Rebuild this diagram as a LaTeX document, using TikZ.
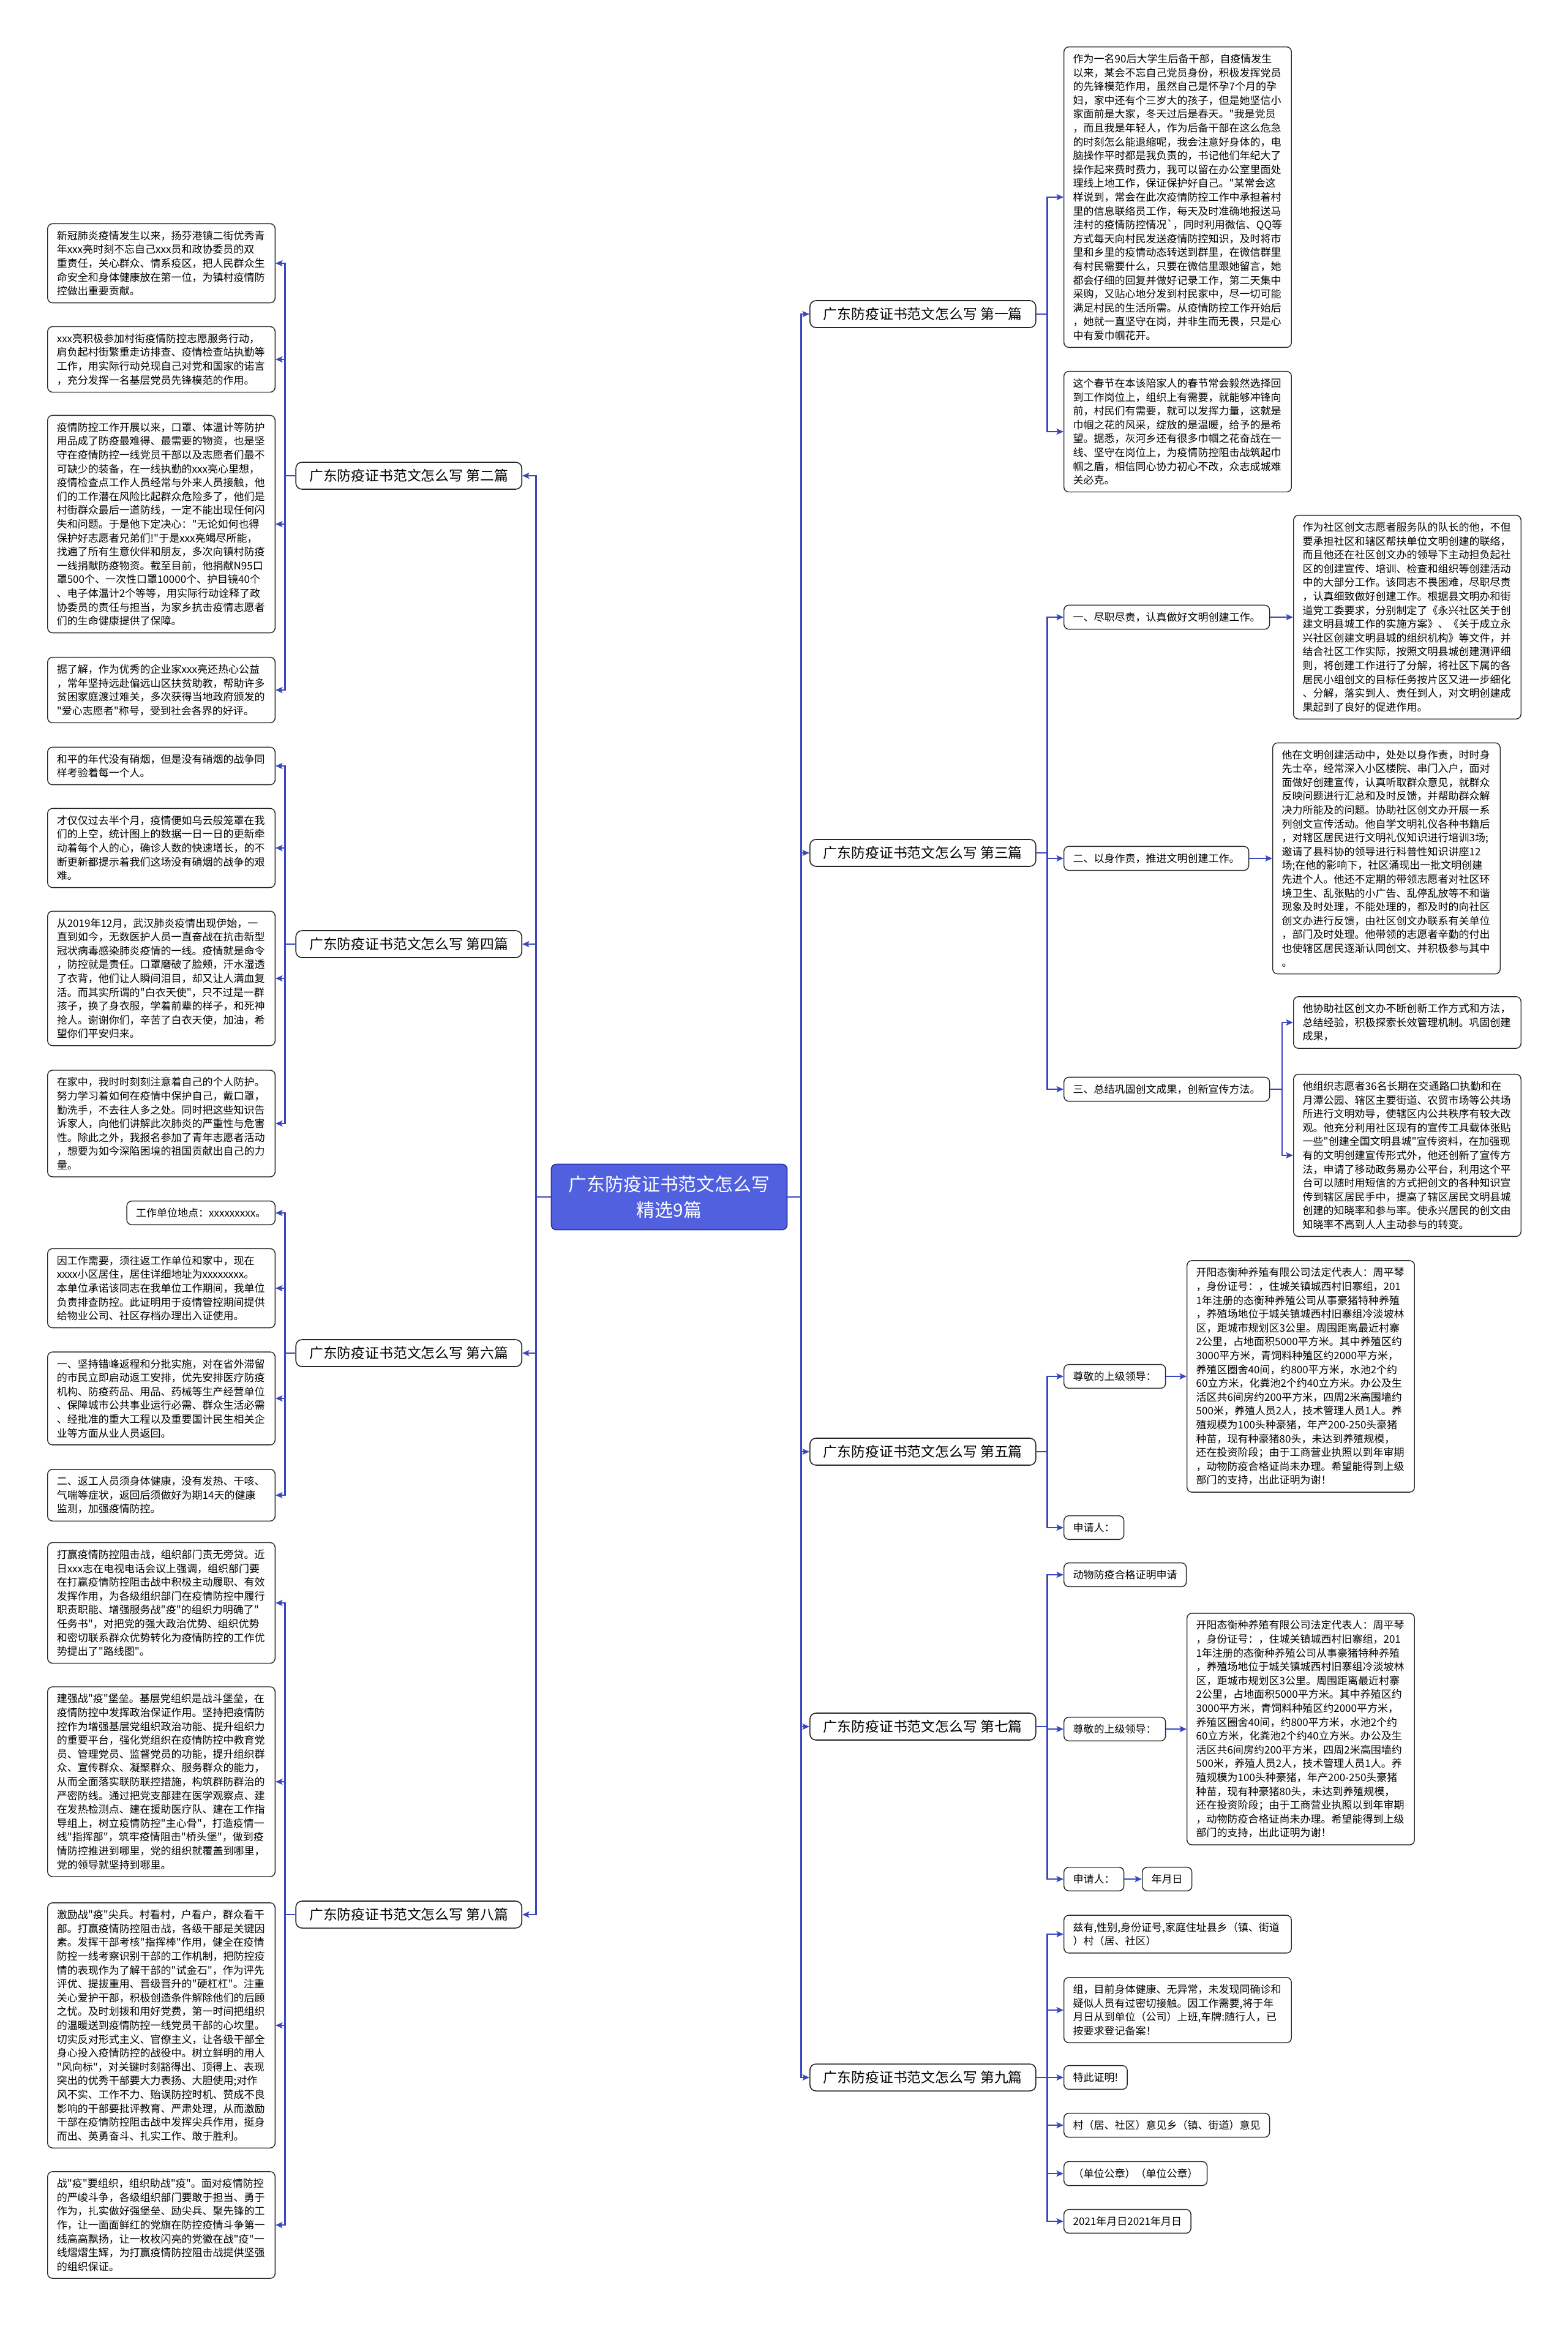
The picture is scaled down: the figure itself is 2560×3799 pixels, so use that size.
\documentclass[tikz,border=0pt]{standalone}
\usepackage{fontspec}
\setmainfont{Noto Sans CJK SC}[Ligatures=TeXOff]
\usepackage{tikz}
\usetikzlibrary{arrows.meta}

\definecolor{linkblue}{RGB}{58,70,190}
\definecolor{rootblue}{RGB}{80,96,222}
\definecolor{rootedge}{RGB}{42,54,168}
\definecolor{boxedge}{RGB}{38,38,38}

\tikzset{
  conn/.style={draw=linkblue, line width=1.3pt,
    -{Stealth[length=2.3mm,width=2mm,inset=0.5mm]}},
  textbox/.style={draw=boxedge, line width=0.8pt, rounded corners=1.6mm, fill=white,
    text width=68.3mm, align=left, inner xsep=3mm, inner ysep=2.3mm,
    font=\fontsize{9.67pt}{12.86pt}\selectfont},
  tagbox/.style={draw=boxedge, line width=0.8pt, rounded corners=1.6mm, fill=white,
    inner xsep=3mm, inner ysep=2.3mm,
    font=\fontsize{9.67pt}{12.86pt}\selectfont},
  partbox/.style={draw=boxedge, line width=0.9pt, rounded corners=2mm, fill=white,
    minimum width=73.8mm, minimum height=8.8mm, inner xsep=3mm,
    font=\fontsize{13pt}{15pt}\selectfont},
  rootbox/.style={draw=rootedge, line width=1pt, rounded corners=1.6mm, fill=rootblue,
    text=white, align=center, minimum width=77mm, minimum height=21.4mm,
    font=\fontsize{17pt}{23.4pt}\selectfont}
}

\begin{document}
\begin{tikzpicture}[x=0.2mm, y=-0.2mm]

\useasboundingbox (0,0) rectangle (2560,3799);

\newcommand\ctrX{1093}
\newcommand\ctrY{1955}
\newcommand\brL{853}
\newcommand\brR{1322}
\newcommand\bxL{450}
\newcommand\bxR{1737}

% Root
\node [rootbox] (root) at (\ctrX, \ctrY) {
广东防疫证书范文怎么写\\
精选9篇
};

% Parts on the left
\node [partbox, anchor=east] (part_2) at (\brL, 777) {广东防疫证书范文怎么写 第二篇};
\node [partbox, anchor=east] (part_4) at (\brL, 1542) {广东防疫证书范文怎么写 第四篇};
\node [partbox, anchor=east] (part_6) at (\brL, 2210) {广东防疫证书范文怎么写 第六篇};
\node [partbox, anchor=east] (part_8) at (\brL, 3127) {广东防疫证书范文怎么写 第八篇};

% Parts on the right
\node [partbox, anchor=west] (part_1) at (\brR, 513) {广东防疫证书范文怎么写 第一篇};
\node [partbox, anchor=west] (part_3) at (\brR, 1393) {广东防疫证书范文怎么写 第三篇};
\node [partbox, anchor=west] (part_5) at (\brR, 2371) {广东防疫证书范文怎么写 第五篇};
\node [partbox, anchor=west] (part_7) at (\brR, 2820) {广东防疫证书范文怎么写 第七篇};
\node [partbox, anchor=west] (part_9) at (\brR, 3393) {广东防疫证书范文怎么写 第九篇};

% Part two
\node [textbox, anchor=east] (part_2_a) at (\bxL, 430) {
新冠肺炎疫情发生以来，扬芬港镇二街优秀青\\
年xxx亮时刻不忘自己xxx员和政协委员的双\\
重责任，关心群众、情系疫区，把人民群众生\\
命安全和身体健康放在第一位，为镇村疫情防\\
控做出重要贡献。
};
\node [textbox, anchor=east] (part_2_b) at (\bxL, 587) {
xxx亮积极参加村街疫情防控志愿服务行动，\\
肩负起村街繁重走访排查、疫情检查站执勤等\\
工作，用实际行动兑现自己对党和国家的诺言\\
，充分发挥一名基层党员先锋模范的作用。
};
\node [textbox, anchor=east] (part_2_c) at (\bxL, 856) {
疫情防控工作开展以来，口罩、体温计等防护\\
用品成了防疫最难得、最需要的物资，也是坚\\
守在疫情防控一线党员干部以及志愿者们最不\\
可缺少的装备，在一线执勤的xxx亮心里想，\\
疫情检查点工作人员经常与外来人员接触，他\\
们的工作潜在风险比起群众危险多了，他们是\\
村街群众最后一道防线，一定不能出现任何闪\\
失和问题。于是他下定决心："无论如何也得\\
保护好志愿者兄弟们!"于是xxx亮竭尽所能，\\
找遍了所有生意伙伴和朋友，多次向镇村防疫\\
一线捐献防疫物资。截至目前，他捐献N95口\\
罩500个、一次性口罩10000个、护目镜40个\\
、电子体温计2个等等，用实际行动诠释了政\\
协委员的责任与担当，为家乡抗击疫情志愿者\\
们的生命健康提供了保障。
};
\node [textbox, anchor=east] (part_2_d) at (\bxL, 1127) {
据了解，作为优秀的企业家xxx亮还热心公益\\
，常年坚持远赴偏远山区扶贫助教，帮助许多\\
贫困家庭渡过难关，多次获得当地政府颁发的\\
"爱心志愿者"称号，受到社会各界的好评。
};

% Part four
\node [textbox, anchor=east] (part_4_a) at (\bxL, 1251) {
和平的年代没有硝烟，但是没有硝烟的战争同\\
样考验着每一个人。
};
\node [textbox, anchor=east] (part_4_b) at (\bxL, 1385) {
才仅仅过去半个月，疫情便如乌云般笼罩在我\\
们的上空，统计图上的数据一日一日的更新牵\\
动着每个人的心，确诊人数的快速增长，的不\\
断更新都提示着我们这场没有硝烟的战争的艰\\
难。
};
\node [textbox, anchor=east] (part_4_c) at (\bxL, 1598) {
从2019年12月，武汉肺炎疫情出现伊始，一\\
直到如今，无数医护人员一直奋战在抗击新型\\
冠状病毒感染肺炎疫情的一线。疫情就是命令\\
，防控就是责任。口罩磨破了脸颊，汗水湿透\\
了衣背，他们让人瞬间泪目，却又让人满血复\\
活。而其实所谓的"白衣天使"，只不过是一群\\
孩子，换了身衣服，学着前辈的样子，和死神\\
抢人。谢谢你们，辛苦了白衣天使，加油，希\\
望你们平安归来。
};
\node [textbox, anchor=east] (part_4_d) at (\bxL, 1835) {
在家中，我时时刻刻注意着自己的个人防护。\\
努力学习着如何在疫情中保护自己，戴口罩，\\
勤洗手，不去往人多之处。同时把这些知识告\\
诉家人，向他们讲解此次肺炎的严重性与危害\\
性。除此之外，我报名参加了青年志愿者活动\\
，想要为如今深陷困境的祖国贡献出自己的力\\
量。
};

% Part six
\node [tagbox, anchor=east] (part_6_a) at (\bxL, 1981) {工作单位地点：xxxxxxxxx。};
\node [textbox, anchor=east] (part_6_b) at (\bxL, 2104) {
因工作需要，须往返工作单位和家中，现在\\
xxxx小区居住，居住详细地址为xxxxxxxx。\\
本单位承诺该同志在我单位工作期间，我单位\\
负责排查防控。此证明用于疫情管控期间提供\\
给物业公司、社区存档办理出入证使用。
};
\node [textbox, anchor=east] (part_6_c) at (\bxL, 2284) {
一、坚持错峰返程和分批实施，对在省外滞留\\
的市民立即启动返工安排，优先安排医疗防疫\\
机构、防疫药品、用品、药械等生产经营单位\\
、保障城市公共事业运行必需、群众生活必需\\
、经批准的重大工程以及重要国计民生相关企\\
业等方面从业人员返回。
};
\node [textbox, anchor=east] (part_6_d) at (\bxL, 2442) {
二、返工人员须身体健康，没有发热、干咳、\\
气喘等症状，返回后须做好为期14天的健康\\
监测，加强疫情防控。
};

% Part eight
\node [textbox, anchor=east] (part_8_a) at (\bxL, 2618) {
打赢疫情防控阻击战，组织部门责无旁贷。近\\
日xxx志在电视电话会议上强调，组织部门要\\
在打赢疫情防控阻击战中积极主动履职、有效\\
发挥作用，为各级组织部门在疫情防控中履行\\
职责职能、增强服务战"疫"的组织力明确了"\\
任务书"，对把党的强大政治优势、组织优势\\
和密切联系群众优势转化为疫情防控的工作优\\
势提出了"路线图"。
};
\node [textbox, anchor=east] (part_8_b) at (\bxL, 2910) {
建强战"疫"堡垒。基层党组织是战斗堡垒，在\\
疫情防控中发挥政治保证作用。坚持把疫情防\\
控作为增强基层党组织政治功能、提升组织力\\
的重要平台，强化党组织在疫情防控中教育党\\
员、管理党员、监督党员的功能，提升组织群\\
众、宣传群众、凝聚群众、服务群众的能力，\\
从而全面落实联防联控措施，构筑群防群治的\\
严密防线。通过把党支部建在医学观察点、建\\
在发热检测点、建在援助医疗队、建在工作指\\
导组上，树立疫情防控"主心骨"，打造疫情一\\
线"指挥部"，筑牢疫情阻击"桥头堡"，做到疫\\
情防控推进到哪里，党的组织就覆盖到哪里，\\
党的领导就坚持到哪里。
};
\node [textbox, anchor=east] (part_8_c) at (\bxL, 3308) {
激励战"疫"尖兵。村看村，户看户，群众看干\\
部。打赢疫情防控阻击战，各级干部是关键因\\
素。发挥干部考核"指挥棒"作用，健全在疫情\\
防控一线考察识别干部的工作机制，把防控疫\\
情的表现作为了解干部的"试金石"，作为评先\\
评优、提拔重用、晋级晋升的"硬杠杠"。注重\\
关心爱护干部，积极创造条件解除他们的后顾\\
之忧。及时划拨和用好党费，第一时间把组织\\
的温暖送到疫情防控一线党员干部的心坎里。\\
切实反对形式主义、官僚主义，让各级干部全\\
身心投入疫情防控的战役中。树立鲜明的用人\\
"风向标"，对关键时刻豁得出、顶得上、表现\\
突出的优秀干部要大力表扬、大胆使用;对作\\
风不实、工作不力、贻误防控时机、赞成不良\\
影响的干部要批评教育、严肃处理，从而激励\\
干部在疫情防控阻击战中发挥尖兵作用，挺身\\
而出、英勇奋斗、扎实工作、敢于胜利。
};
\node [textbox, anchor=east] (part_8_d) at (\bxL, 3634) {
战"疫"要组织，组织助战"疫"。面对疫情防控\\
的严峻斗争，各级组织部门要敢于担当、勇于\\
作为，扎实做好强堡垒、励尖兵、聚先锋的工\\
作，让一面面鲜红的党旗在防控疫情斗争第一\\
线高高飘扬，让一枚枚闪亮的党徽在战"疫"一\\
线熠熠生辉，为打赢疫情防控阻击战提供坚强\\
的组织保证。
};

% Part one
\node [textbox, anchor=west] (part_1_a) at (\bxR, 322) {
作为一名90后大学生后备干部，自疫情发生\\
以来，某会不忘自己党员身份，积极发挥党员\\
的先锋模范作用，虽然自己是怀孕7个月的孕\\
妇，家中还有个三岁大的孩子，但是她坚信小\\
家面前是大家，冬天过后是春天。"我是党员\\
，而且我是年轻人，作为后备干部在这么危急\\
的时刻怎么能退缩呢，我会注意好身体的，电\\
脑操作平时都是我负责的，书记他们年纪大了\\
操作起来费时费力，我可以留在办公室里面处\\
理线上地工作，保证保护好自己。"某常会这\\
样说到，常会在此次疫情防控工作中承担着村\\
里的信息联络员工作，每天及时准确地报送马\\
洼村的疫情防控情况\textasciigrave，同时利用微信、QQ等\\
方式每天向村民发送疫情防控知识，及时将市\\
里和乡里的疫情动态转送到群里，在微信群里\\
有村民需要什么，只要在微信里跟她留言，她\\
都会仔细的回复并做好记录工作，第二天集中\\
采购，又贴心地分发到村民家中，尽一切可能\\
满足村民的生活所需。从疫情防控工作开始后\\
，她就一直坚守在岗，并非生而无畏，只是心\\
中有爱巾帼花开。
};
\node [textbox, anchor=west] (part_1_b) at (\bxR, 705) {
这个春节在本该陪家人的春节常会毅然选择回\\
到工作岗位上，组织上有需要，就能够冲锋向\\
前，村民们有需要，就可以发挥力量，这就是\\
巾帼之花的风采，绽放的是温暖，给予的是希\\
望。据悉，灰河乡还有很多巾帼之花奋战在一\\
线、坚守在岗位上，为疫情防控阻击战筑起巾\\
帼之盾，相信同心协力初心不改，众志成城难\\
关必克。
};

% Part three
\node [tagbox, anchor=west] (part_3_a) at (\bxR, 1008) {一、尽职尽责，认真做好文明创建工作。};
\node [tagbox, anchor=west] (part_3_b) at (\bxR, 1402) {二、以身作责，推进文明创建工作。};
\node [tagbox, anchor=west] (part_3_c) at (\bxR, 1779) {三、总结巩固创文成果，创新宣传方法。};

\node [textbox, anchor=west] (part_3_a_text) at (2112, 1008) {
作为社区创文志愿者服务队的队长的他，不但\\
要承担社区和辖区帮扶单位文明创建的联络，\\
而且他还在社区创文办的领导下主动担负起社\\
区的创建宣传、培训、检查和组织等创建活动\\
中的大部分工作。该同志不畏困难，尽职尽责\\
，认真细致做好创建工作。根据县文明办和街\\
道党工委要求，分别制定了《永兴社区关于创\\
建文明县城工作的实施方案》、《关于成立永\\
兴社区创建文明县城的组织机构》等文件，并\\
结合社区工作实际，按照文明县城创建测评细\\
则，将创建工作进行了分解，将社区下属的各\\
居民小组创文的目标任务按片区又进一步细化\\
、分解，落实到人、责任到人，对文明创建成\\
果起到了良好的促进作用。
};
\node [textbox, anchor=west] (part_3_b_text) at (2078, 1402) {
他在文明创建活动中，处处以身作责，时时身\\
先士卒，经常深入小区楼院、串门入户，面对\\
面做好创建宣传，认真听取群众意见，就群众\\
反映问题进行汇总和及时反馈，并帮助群众解\\
决力所能及的问题。协助社区创文办开展一系\\
列创文宣传活动。他自学文明礼仪各种书籍后\\
，对辖区居民进行文明礼仪知识进行培训3场;\\
邀请了县科协的领导进行科普性知识讲座12\\
场;在他的影响下，社区涌现出一批文明创建\\
先进个人。他还不定期的带领志愿者对社区环\\
境卫生、乱张贴的小广告、乱停乱放等不和谐\\
现象及时处理，不能处理的，都及时的向社区\\
创文办进行反馈，由社区创文办联系有关单位\\
，部门及时处理。他带领的志愿者辛勤的付出\\
也使辖区居民逐渐认同创文、并积极参与其中\\
。
};
\node [textbox, anchor=west] (part_3_c_one) at (2112, 1670) {
他协助社区创文办不断创新工作方式和方法，\\
总结经验，积极探索长效管理机制。巩固创建\\
成果，
};
\node [textbox, anchor=west] (part_3_c_two) at (2112, 1887) {
他组织志愿者36名长期在交通路口执勤和在\\
月潭公园、辖区主要街道、农贸市场等公共场\\
所进行文明劝导，使辖区内公共秩序有较大改\\
观。他充分利用社区现有的宣传工具载体张贴\\
一些"创建全国文明县城"宣传资料，在加强现\\
有的文明创建宣传形式外，他还创新了宣传方\\
法，申请了移动政务易办公平台，利用这个平\\
台可以随时用短信的方式把创文的各种知识宣\\
传到辖区居民手中，提高了辖区居民文明县城\\
创建的知晓率和参与率。使永兴居民的创文由\\
知晓率不高到人人主动参与的转变。
};

% Part five
\node [tagbox, anchor=west] (part_5_a) at (\bxR, 2248) {尊敬的上级领导：};
\node [tagbox, anchor=west] (part_5_b) at (\bxR, 2495) {申请人：};
\node [textbox, anchor=west] (part_5_a_text) at (1938, 2248) {
开阳态衡种养殖有限公司法定代表人：周平琴\\
，身份证号：，住城关镇城西村旧寨组，201\\
1年注册的态衡种养殖公司从事豪猪特种养殖\\
，养殖场地位于城关镇城西村旧寨组冷淡坡林\\
区，距城市规划区3公里。周围距离最近村寨\\
2公里，占地面积5000平方米。其中养殖区约\\
3000平方米，青饲料种殖区约2000平方米，\\
养殖区圈舍40间，约800平方米，水池2个约\\
60立方米，化粪池2个约40立方米。办公及生\\
活区共6间房约200平方米，四周2米高围墙约\\
500米，养殖人员2人，技术管理人员1人。养\\
殖规模为100头种豪猪，年产200-250头豪猪\\
种苗，现有种豪猪80头，未达到养殖规模，\\
还在投资阶段；由于工商营业执照以到年审期\\
，动物防疫合格证尚未办理。希望能得到上级\\
部门的支持，出此证明为谢！
};

% Part seven
\node [tagbox, anchor=west] (part_7_a) at (\bxR, 2572) {动物防疫合格证明申请};
\node [tagbox, anchor=west] (part_7_b) at (\bxR, 2824) {尊敬的上级领导：};
\node [tagbox, anchor=west] (part_7_c) at (\bxR, 3069) {申请人：};
\node [textbox, anchor=west] (part_7_b_text) at (1938, 2824) {
开阳态衡种养殖有限公司法定代表人：周平琴\\
，身份证号：，住城关镇城西村旧寨组，201\\
1年注册的态衡种养殖公司从事豪猪特种养殖\\
，养殖场地位于城关镇城西村旧寨组冷淡坡林\\
区，距城市规划区3公里。周围距离最近村寨\\
2公里，占地面积5000平方米。其中养殖区约\\
3000平方米，青饲料种殖区约2000平方米，\\
养殖区圈舍40间，约800平方米，水池2个约\\
60立方米，化粪池2个约40立方米。办公及生\\
活区共6间房约200平方米，四周2米高围墙约\\
500米，养殖人员2人，技术管理人员1人。养\\
殖规模为100头种豪猪，年产200-250头豪猪\\
种苗，现有种豪猪80头，未达到养殖规模，\\
还在投资阶段；由于工商营业执照以到年审期\\
，动物防疫合格证尚未办理。希望能得到上级\\
部门的支持，出此证明为谢！
};
\node [tagbox, anchor=west] (part_7_c_date) at (1865, 3069) {年月日};

% Part nine
\node [textbox, anchor=west] (part_9_a) at (\bxR, 3159) {
兹有,性别,身份证号,家庭住址县乡（镇、街道\\
）村（居、社区）
};
\node [textbox, anchor=west] (part_9_b) at (\bxR, 3283) {
组，目前身体健康、无异常，未发现同确诊和\\
疑似人员有过密切接触。因工作需要,将于年\\
月日从到单位（公司）上班,车牌:随行人，已\\
按要求登记备案！
};
\node [tagbox, anchor=west] (part_9_c) at (\bxR, 3393) {特此证明!};
\node [tagbox, anchor=west] (part_9_d) at (\bxR, 3471) {村（居、社区）意见乡（镇、街道）意见};
\node [tagbox, anchor=west] (part_9_e) at (\bxR, 3550) {（单位公章）（单位公章）};
\node [tagbox, anchor=west] (part_9_f) at (\bxR, 3628) {2021年月日2021年月日};



% Arrows from the root
\draw[conn] (root.west) -- ++(-24,0) |- (part_2.east);
\draw[conn] (root.west) -- ++(-24,0) |- (part_4.east);
\draw[conn] (root.west) -- ++(-24,0) |- (part_6.east);
\draw[conn] (root.west) -- ++(-24,0) |- (part_8.east);

\draw[conn] (root.east) -- ++(22,0) |- (part_1.west);
\draw[conn] (root.east) -- ++(22,0) |- (part_3.west);
\draw[conn] (root.east) -- ++(22,0) |- (part_5.west);
\draw[conn] (root.east) -- ++(22,0) |- (part_7.west);
\draw[conn] (root.east) -- ++(22,0) |- (part_9.west);

% Arrows on the left
\draw[conn] (part_2.west) -- ++(-17,0) |- (part_2_a.east);
\draw[conn] (part_2.west) -- ++(-17,0) |- (part_2_b.east);
\draw[conn] (part_2.west) -- ++(-17,0) |- (part_2_c.east);
\draw[conn] (part_2.west) -- ++(-17,0) |- (part_2_d.east);

\draw[conn] (part_4.west) -- ++(-17,0) |- (part_4_a.east);
\draw[conn] (part_4.west) -- ++(-17,0) |- (part_4_b.east);
\draw[conn] (part_4.west) -- ++(-17,0) |- (part_4_c.east);
\draw[conn] (part_4.west) -- ++(-17,0) |- (part_4_d.east);

\draw[conn] (part_6.west) -- ++(-17,0) |- (part_6_a.east);
\draw[conn] (part_6.west) -- ++(-17,0) |- (part_6_b.east);
\draw[conn] (part_6.west) -- ++(-17,0) |- (part_6_c.east);
\draw[conn] (part_6.west) -- ++(-17,0) |- (part_6_d.east);

\draw[conn] (part_8.west) -- ++(-17,0) |- (part_8_a.east);
\draw[conn] (part_8.west) -- ++(-17,0) |- (part_8_b.east);
\draw[conn] (part_8.west) -- ++(-17,0) |- (part_8_c.east);
\draw[conn] (part_8.west) -- ++(-17,0) |- (part_8_d.east);

% Arrows on the right
\draw[conn] (part_1.east) -- ++(18,0) |- (part_1_a.west);
\draw[conn] (part_1.east) -- ++(18,0) |- (part_1_b.west);

\draw[conn] (part_3.east) -- ++(18,0) |- (part_3_a.west);
\draw[conn] (part_3.east) -- ++(18,0) |- (part_3_b.west);
\draw[conn] (part_3.east) -- ++(18,0) |- (part_3_c.west);
\draw[conn] (part_3_a.east) -- (part_3_a_text.west);
\draw[conn] (part_3_b.east) -- (part_3_b_text.west);
\draw[conn] (part_3_c.east) -- ++(20,0) |- (part_3_c_one.west);
\draw[conn] (part_3_c.east) -- ++(20,0) |- (part_3_c_two.west);

\draw[conn] (part_5.east) -- ++(18,0) |- (part_5_a.west);
\draw[conn] (part_5.east) -- ++(18,0) |- (part_5_b.west);
\draw[conn] (part_5_a.east) -- (part_5_a_text.west);

\draw[conn] (part_7.east) -- ++(18,0) |- (part_7_a.west);
\draw[conn] (part_7.east) -- ++(18,0) |- (part_7_b.west);
\draw[conn] (part_7.east) -- ++(18,0) |- (part_7_c.west);
\draw[conn] (part_7_b.east) -- (part_7_b_text.west);
\draw[conn] (part_7_c.east) -- (part_7_c_date.west);

\draw[conn] (part_9.east) -- ++(18,0) |- (part_9_a.west);
\draw[conn] (part_9.east) -- ++(18,0) |- (part_9_b.west);
\draw[conn] (part_9.east) -- ++(18,0) |- (part_9_c.west);
\draw[conn] (part_9.east) -- ++(18,0) |- (part_9_d.west);
\draw[conn] (part_9.east) -- ++(18,0) |- (part_9_e.west);
\draw[conn] (part_9.east) -- ++(18,0) |- (part_9_f.west);

\end{tikzpicture}
\end{document}
